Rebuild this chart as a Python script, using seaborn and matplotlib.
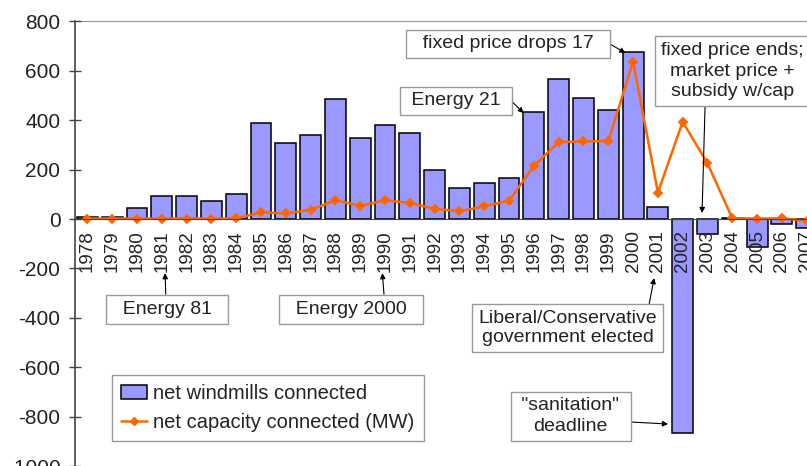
import numpy as np
import matplotlib
matplotlib.use("Agg")
import matplotlib.pyplot as plt
from matplotlib.patches import Patch
from matplotlib.lines import Line2D
import seaborn as sns

# ----------------------------------------------------------------------
# data
# ----------------------------------------------------------------------
years = [str(y) for y in range(1978, 2008)]
windmills = [8, 8, 43, 95, 93, 73, 102, 390, 308, 339,
             485, 329, 379, 350, 199, 125, 144, 168, 434, 568,
             490, 442, 675, 48, -865, -62, 5, -112, -20, -35]
capacity = [2, 2, 2, 2, 2, 2, 3, 27, 23, 37,
            76, 53, 76, 65, 41, 31, 52, 74, 215, 312,
            314, 316, 637, 107, 394, 225, 3, 2, 3, -7]
yticks = list(range(-1000, 801, 200))

BAR_COLOR = "#9999FF"
LINE_COLOR = "#FF6600"
TEXT_COLOR = "#222222"

sns.set_style("white")
plt.rcParams["font.family"] = ["Liberation Sans", "DejaVu Sans"]
plt.rcParams["axes.unicode_minus"] = False

fig = plt.figure(figsize=(8.07, 4.66), dpi=100)
ax = fig.add_axes([0.093, 0.0, 0.922, 0.954])

sns.barplot(x=years, y=windmills, color=BAR_COLOR, saturation=1,
            edgecolor="black", linewidth=1.1, width=0.84, ax=ax)
sns.pointplot(x=years, y=capacity, color=LINE_COLOR, markers="D",
              markersize=4.2, linewidth=1.8, errorbar=None, ax=ax)

ax.set_xlim(-0.5, 29.5)
ax.set_ylim(-1000, 800)
ax.set_yticks(yticks)
ax.set_yticklabels([str(t) for t in yticks], fontsize=15, color=TEXT_COLOR)
ax.set_xlabel("")
ax.set_ylabel("")
ax.set_axisbelow(False)

# x axis sits at zero, year labels vertical
ax.spines["bottom"].set_position(("data", 0))
ax.spines["bottom"].set_color("#444444")
ax.spines["left"].set_color("#444444")
ax.spines["left"].set_linewidth(1.2)
ax.spines["top"].set_color("#999999")
ax.spines["right"].set_visible(False)
ax.tick_params(axis="x", length=0, pad=8, labelsize=13.5, labelrotation=90,
               labelcolor=TEXT_COLOR)
ax.tick_params(axis="y", direction="inout", length=9, width=1, pad=6,
               color="#444444", left=True)

box = dict(boxstyle="square,pad=0.3", fc="white", ec="#999999", lw=1)
arrow = dict(arrowstyle="-|>", color="black", lw=0.8, mutation_scale=8,
             shrinkA=0, shrinkB=0)


def note(text, xy, xytext, relpos, spacing=1.15):
    ax.annotate(text, xy=xy, xytext=xytext, ha="center", va="center",
                fontsize=14, color=TEXT_COLOR, bbox=box,
                arrowprops=dict(arrow, relpos=relpos), zorder=5,
                linespacing=spacing)


note("  fixed price drops 17  ", (21.69, 672), (16.95, 709), (1.0, 0.7))
note(" Energy 21 ", (17.59, 429), (14.86, 478), (1.0, 0.8))
note("fixed price ends;\nmarket price +\nsubsidy w/cap", (24.78, 24),
     (26.0, 599), (0.31, 0.0), spacing=1.3)
note("  Energy 81  ", (3.13, -219), (3.21, -365), (0.49, 1.0))
note("  Energy 2000  ", (11.89, -219), (10.64, -365), (0.75, 1.0))
note("Liberal/Conservative\ngovernment elected", (22.85, -239),
     (19.36, -441), (0.95, 1.0))
note(" \"sanitation\" \ndeadline", (23.41, -830), (19.48, -798),
     (1.0, 0.35), spacing=1.25)

handles = [
    Patch(facecolor=BAR_COLOR, edgecolor="black", linewidth=1.1),
    Line2D([0], [0], color=LINE_COLOR, lw=1.8, marker="D", markersize=4.2),
]
labels = ["net windmills connected", "net capacity connected (MW)"]
leg = ax.legend(handles, labels, loc="upper left",
                bbox_to_anchor=(0.0497, 0.205), borderaxespad=0,
                fontsize=14.5, frameon=True, fancybox=False, framealpha=1,
                edgecolor="#999999", handlelength=1.3, handletextpad=0.3,
                labelspacing=0.5, borderpad=0.45)
for t in leg.get_texts():
    t.set_color(TEXT_COLOR)
leg.get_frame().set_linewidth(1)

fig.savefig("out.png", dpi=100)
